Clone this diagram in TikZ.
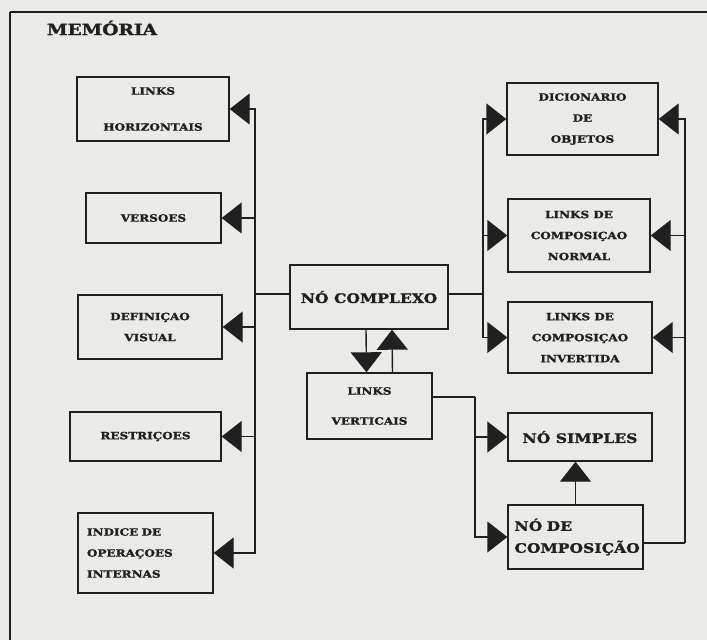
\documentclass[tikz,border=0pt]{standalone}
\usepackage{fontspec}
\usepackage{xcolor}
\usepackage{tikz}
\usetikzlibrary{arrows.meta}

\newfontfamily\schemafont{DejaVu Serif}[FakeStretch=1.2,FakeBold=1.6]
\definecolor{paper}{RGB}{234,234,230}
\definecolor{ink}{RGB}{32,32,32}

\begin{document}
\begin{tikzpicture}[x=1pt,y=-1pt,
    box/.style={draw=ink,line width=1.4pt,inner sep=0pt,align=center,text=ink,
                font=\schemafont\bfseries\fontsize{10}{21}\selectfont},
    bigbox/.style={box,font=\schemafont\bfseries\fontsize{13}{22}\selectfont},
    wire/.style={draw=ink,line width=1.4pt},
    arrow/.style={wire,-{Triangle[length=20pt,width=31pt]}}]

  % page and frame
  \clip (0,0) rectangle (707,640);
  \fill[paper] (0,0) rectangle (707,640);
  \draw[wire] (10,12) -- (730,12);
  \draw[wire] (10,12) -- (10,660);

  \node[text=ink,font=\schemafont\bfseries\fontsize{15.5}{18}\selectfont] (memoria) at (102,28) {MEMÓRIA};

  % left column
  \node[box,minimum width=152pt,minimum height=64pt] (horiz) at (153,109) {LINKS\\[15pt]HORIZONTAIS};
  \node[box,minimum width=135pt,minimum height=50pt] (versoes) at (153.5,218) {VERSOES};
  \node[box,minimum width=144pt,minimum height=64pt] (defvis) at (150,327) {DEFINIÇAO\\VISUAL};
  \node[box,minimum width=151pt,minimum height=49pt] (restr) at (145.5,436.5) {RESTRIÇOES};
  \node[box,align=left,text width=117pt,minimum width=135pt,minimum height=80pt] (indice) at (145.5,553) {INDICE DE\\OPERAÇOES\\INTERNAS};

  % middle
  \node[bigbox,minimum width=158pt,minimum height=64pt] (complexo) at (369,297) {NÓ COMPLEXO};
  \node[box,minimum width=125pt,minimum height=66pt] (lvert) at (369.5,406) {LINKS\\[9pt]VERTICAIS};

  % right column
  \node[box,minimum width=151pt,minimum height=72pt] (dicio) at (582.5,119) {DICIONARIO\\DE\\OBJETOS};
  \node[box,minimum width=142pt,minimum height=73pt] (normal) at (579,235.5) {LINKS DE\\COMPOSIÇAO\\NORMAL};
  \node[box,minimum width=144pt,minimum height=71pt] (invert) at (580,337.5) {LINKS DE\\COMPOSIÇAO\\INVERTIDA};
  \node[bigbox,minimum width=144pt,minimum height=48pt] (simples) at (580,437) {NÓ SIMPLES};
  \node[bigbox,align=left,text width=122pt,minimum width=135pt,minimum height=64pt] (composicao) at (575.5,537) {NÓ DE\\COMPOSIÇÃO};

  % buses
  \coordinate (lbus) at (255,294);
  \coordinate (rbus) at (483,294);
  \coordinate (vbus) at (475,397);
  \coordinate (obus) at (685,543);

  \draw[wire] (complexo.west |- lbus) -- (lbus);
  \foreach \target in {horiz,versoes,defvis,restr,indice}
    \draw[arrow] (lbus) |- (\target.east);

  \draw[wire] (complexo.east |- rbus) -- (rbus);
  \foreach \target in {dicio,normal,invert}
    \draw[arrow] (rbus) |- (\target.west);

  \draw[arrow] ([xshift=-3pt]complexo.south) -- ([xshift=-3pt]lvert.north);
  \draw[arrow] ([xshift=23pt]lvert.north) -- ([xshift=23pt]complexo.south);

  \draw[wire] (lvert.east |- vbus) -- (vbus);
  \foreach \target in {simples,composicao}
    \draw[arrow] (vbus) |- (\target.west);

  \draw[arrow] (composicao.north) -- (composicao.north |- simples.south);

  \draw[wire] (composicao.east |- obus) -- (obus);
  \foreach \target in {dicio,normal,invert}
    \draw[arrow] (obus) |- (\target.east);

\end{tikzpicture}
\end{document}
